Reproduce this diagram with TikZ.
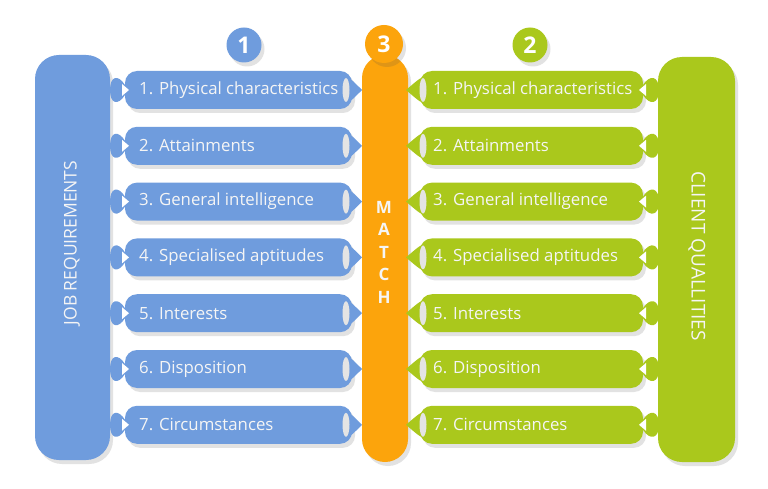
\documentclass[tikz,border=0pt]{standalone}
\usepackage{fontspec}
\setmainfont{Open Sans}
\usetikzlibrary{shadows}
\definecolor{jblue}{HTML}{6F9CDD}
\definecolor{jorange}{HTML}{FCA40C}
\definecolor{jgreen}{HTML}{AAC81C}
\definecolor{jgrey}{HTML}{E4E4E4}
\tikzset{
  shad/.style={drop shadow={shadow xshift=3pt,shadow yshift=-4pt,opacity=0.16,fill=black!70}},
  colbox/.style={rectangle, rounded corners=24pt, inner sep=0pt, shad},
  barbox/.style={rectangle, rounded corners=12pt, minimum height=38pt, inner sep=0pt, shad},
  lbl/.style={text=white!96!black, font=\fontsize{16.8}{18}\selectfont, anchor=west, inner sep=0pt},
  vlbl/.style={text=white!96!black, font=\fontsize{17.5}{19}\selectfont, inner sep=0pt},
  numdot/.style={circle, inner sep=0pt, text=white, font=\fontsize{23}{25}\selectfont\bfseries, shad},
}
\begin{document}
\begin{tikzpicture}[x=1pt,y=-1pt]
\useasboundingbox[fill=white] (0,0) rectangle (768,489);
% columns
\node[colbox, fill=jblue, minimum width=75pt, minimum height=405pt] (jobcol) at (72.5,257.5) {};
\node[colbox, fill=jgreen, minimum width=77pt, minimum height=405pt] (clientcol) at (696.5,259.5) {};
\node[rectangle, rounded corners=23pt, inner sep=0pt, fill=jorange, minimum width=46pt, minimum height=407pt, shad] (match) at (385,258.5) {};
% rows
\foreach \i/\t in {1/Physical characteristics,2/Attainments,3/General intelligence,4/Specialised aptitudes,5/Interests,6/Disposition,7/Circumstances}{
  \pgfmathsetmacro{\c}{90+55.8*(\i-1)}
  \node[barbox, fill=jblue, minimum width=227pt] (bl\i) at (238.5,\c) {};
  \node[barbox, fill=jgreen, minimum width=223pt] (gr\i) at (531.5,\c) {};
  % blue left lobe
  \fill[jblue] (125,\c-5) .. controls (118,\c-16) and (110,\c-14) .. (110,\c)
     .. controls (110,\c+14) and (118,\c+16) .. (125,\c+5) -- cycle;
  \fill[white] (122,\c-6) -- (129,\c) -- (122,\c+6) -- cycle;
  % blue right tip
  \fill[jblue] (342,\c-15) .. controls (350,\c-12) .. (362,\c) .. controls (350,\c+12) .. (342,\c+15) -- cycle;
  \fill[jgrey] (346,\c) ellipse[x radius=3.5pt, y radius=12pt];
  % green left tip
  \fill[jgreen] (428,\c-15) .. controls (420,\c-12) .. (406,\c) .. controls (420,\c+12) .. (428,\c+15) -- cycle;
  \fill[jgrey] (423,\c) ellipse[x radius=3.5pt, y radius=12pt];
  % green right lobe
  \fill[jgreen] (643,\c-5) .. controls (650,\c-16) and (659,\c-14) .. (659,\c)
     .. controls (659,\c+14) and (650,\c+16) .. (643,\c+5) -- cycle;
  \fill[white] (646,\c-6) -- (639,\c) -- (646,\c+6) -- cycle;
  % labels
  \node[lbl] (tl\i) at (139,\c) {\i. \t};
  \node[lbl] (tr\i) at (433,\c) {\i. \t};
}
% numbered circles
\node[numdot, fill=jblue, minimum size=35pt] (n1) at (244,45) {1};
\node[numdot, fill=jgreen, minimum size=35pt] (n2) at (530,45) {2};
\node[numdot, fill=jorange, minimum size=38pt] (n3) at (384,44) {3};
% vertical labels
\node[vlbl, rotate=90] (jobtxt) at (72,243) {JOB REQUIREMENTS};
\node[vlbl, rotate=-90, font=\fontsize{19}{21}\selectfont] (clienttxt) at (697,256) {CLIENT QUALLITIES};
\node[vlbl, align=center, font=\fontsize{17}{22.5}\selectfont\bfseries] (matchtxt) at (384,252) {M\\A\\T\\C\\H};
\end{tikzpicture}
\end{document}
